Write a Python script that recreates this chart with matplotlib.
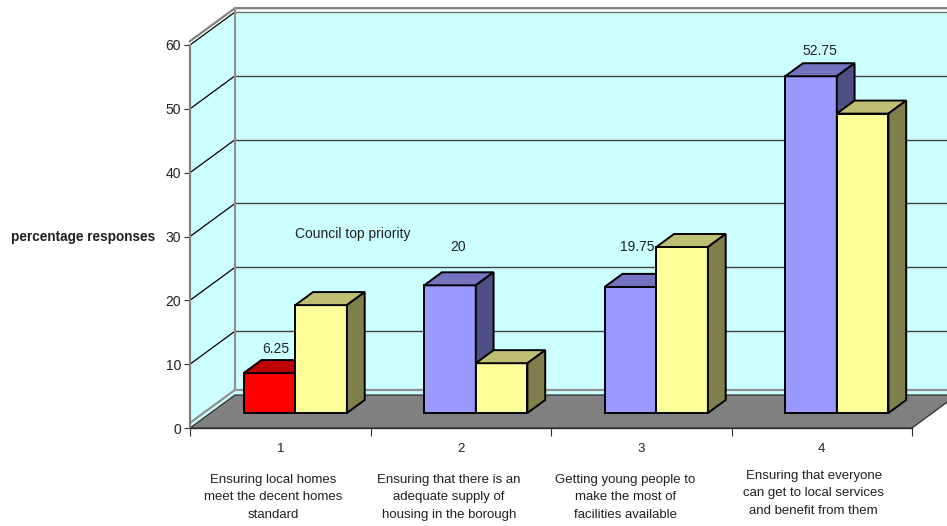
import matplotlib
matplotlib.use("Agg")
import matplotlib.pyplot as plt
from matplotlib.patches import Polygon

plt.rcParams["font.family"] = ["Liberation Sans", "DejaVu Sans"]

categories = ["1", "2", "3", "4"]
descriptions = [
    "Ensuring local homes\nmeet the decent homes\nstandard",
    "Ensuring that there is an\nadequate supply of\nhousing in the borough",
    "Getting young people to\nmake the most of\nfacilities available",
    "Ensuring that everyone\ncan get to local services\nand benefit from them",
]
council = [6.25, 20, 19.75, 52.75]
residents = [16.9, 7.8, 26, 46.9]
y_ticks = [0, 10, 20, 30, 40, 50, 60]

# shear of the fake 3d box, in data units per full floor depth
DX = 0.2493
DY = 5.17
BAR_W = 0.286
SHIFT = -0.03
D0, D1 = 0.4545, 0.85


def proj(x, v, d):
    return (x + d * DX, v + d * DY)


def box(ax, x, v, face, top, side):
    ax.add_patch(Polygon([proj(x, 0, D0), proj(x + BAR_W, 0, D0), proj(x + BAR_W, v, D0), proj(x, v, D0)],
                         fc=face, ec="black", lw=1.4, joinstyle="miter", clip_on=False, zorder=5))
    ax.add_patch(Polygon([proj(x, v, D0), proj(x + BAR_W, v, D0), proj(x + BAR_W, v, D1), proj(x, v, D1)],
                         fc=top, ec="black", lw=1.4, joinstyle="miter", clip_on=False, zorder=5))
    ax.add_patch(Polygon([proj(x + BAR_W, 0, D0), proj(x + BAR_W, 0, D1), proj(x + BAR_W, v, D1), proj(x + BAR_W, v, D0)],
                         fc=side, ec="black", lw=1.4, joinstyle="miter", clip_on=False, zorder=5))


fig = plt.figure(figsize=(9.47, 5.26), dpi=100)
ax = fig.add_axes([190 / 947, (526 - 428) / 526, 722 / 947, 383 / 526])
ax.set_xlim(0.5, 4.5)
ax.set_ylim(0, 60)
ax.patch.set_visible(False)
for s in ["top", "right"]:
    ax.spines[s].set_visible(False)
ax.spines["bottom"].set_color("#303030")
ax.spines["bottom"].set_linewidth(1.0)
ax.spines["bottom"].set_zorder(3)
ax.spines["left"].set_color("#808080")
ax.spines["left"].set_linewidth(1.6)

left, right = 0.5, 4.5
wall = "#CCFFFF"
# back wall and side wall
ax.add_patch(Polygon([proj(left, 0, 1), proj(right, 0, 1), proj(right, 60, 1), proj(left, 60, 1)],
                     fc=wall, ec="none", clip_on=False, zorder=1))
ax.add_patch(Polygon([proj(left, 0, 0), proj(left, 0, 1), proj(left, 60, 1), proj(left, 60, 0)],
                     fc=wall, ec="none", clip_on=False, zorder=1))
# floor
ax.add_patch(Polygon([proj(left, 0, 0), proj(right, 0, 0), proj(right, 0, 1), proj(left, 0, 1)],
                     fc="#808080", ec="#303030", lw=0.9, clip_on=False, zorder=2))

# gridlines
for v in y_ticks[1:]:
    xs, ys = zip(proj(left, v, 1), proj(right, v, 1))
    ax.plot(xs, ys, color="#404040" if v < 60 else "#707070", lw=1.0, clip_on=False, zorder=1.5)
    xs, ys = zip(proj(left, v, 0), proj(left, v, 1))
    ax.plot(xs, ys, color="black", lw=0.9, clip_on=False, zorder=1.5)

# grey wall edges
xs, ys = zip(proj(left, 60.6, 0), proj(left, 60.6, 1), proj(right, 60.6, 1))
ax.plot(xs, ys, color="#808080", lw=1.6, clip_on=False, zorder=1.6)
xs, ys = zip(proj(left, 60.6, 1), proj(left, 0.8, 1), proj(right, 0.8, 1))
ax.plot(xs, ys, color="#909090", lw=1.6, clip_on=False, zorder=1.6)
xs, ys = zip(proj(left, 0.8, 0), proj(left, 0.8, 1))
ax.plot(xs, ys, color="#909090", lw=1.6, clip_on=False, zorder=1.6)

for i in range(len(categories)):
    c = i + 1 + SHIFT
    if i == 0:
        box(ax, c - BAR_W, council[i], "#FF0000", "#BF0000", "#7F0000")
    else:
        box(ax, c - BAR_W, council[i], "#9999FF", "#7373BF", "#4F4F85")
    box(ax, c, residents[i], "#FFFF99", "#BFBF73", "#7F7F4C")

ax.set_yticks(y_ticks)
ax.set_xticks([0.5, 1.5, 2.5, 3.5, 4.5])
ax.set_xticklabels([])
ax.set_xticks([1, 2, 3, 4], minor=True)
ax.set_xticklabels(categories, minor=True, fontsize=9.5, color="#202020")
ax.tick_params(axis="x", which="major", length=5.5, width=0.8, color="#303030")
ax.tick_params(axis="x", which="minor", length=0, pad=10.5)
ax.tick_params(axis="y", length=4.5, width=0.8, color="#303030", labelsize=10, labelcolor="#202020", pad=2)

# category descriptions, hand placed in the original
desc_x = [0.963, 1.936, 2.912, 3.956]
desc_y = [-45.5, -45.5, -45.5, -41.5]
for x, y, d in zip(desc_x, desc_y, descriptions):
    ax.annotate(d, xy=(x, 0), xycoords=("data", "axes fraction"), xytext=(0, y * 0.72),
                textcoords="offset points", ha="center", va="top", fontsize=9.5,
                color="#202020", linespacing=1.64)

# value labels sit where they were dragged in the original
label_pos = [(1, 12.4), (2.0, 28.4), (3.0, 28.4), (4.0, 59.1)]
label_dx = [-4, -3, -4, -2]
for (x, v), val, off in zip(label_pos, council, label_dx):
    ax.annotate(f"{val:g}", xy=(x, v), xytext=(off * 0.72, 0), textcoords="offset points",
                ha="center", va="center", fontsize=10, color="#202020", annotation_clip=False)
ax.text(1.4, 30.4, "Council top priority", ha="center", va="center", fontsize=10, color="#202020")
fig.text(83 / 947, 1 - 237 / 526, "percentage responses", ha="center", va="center",
         fontsize=9.8, fontweight="bold", color="#202020")

fig.savefig("out.png", dpi=100)
